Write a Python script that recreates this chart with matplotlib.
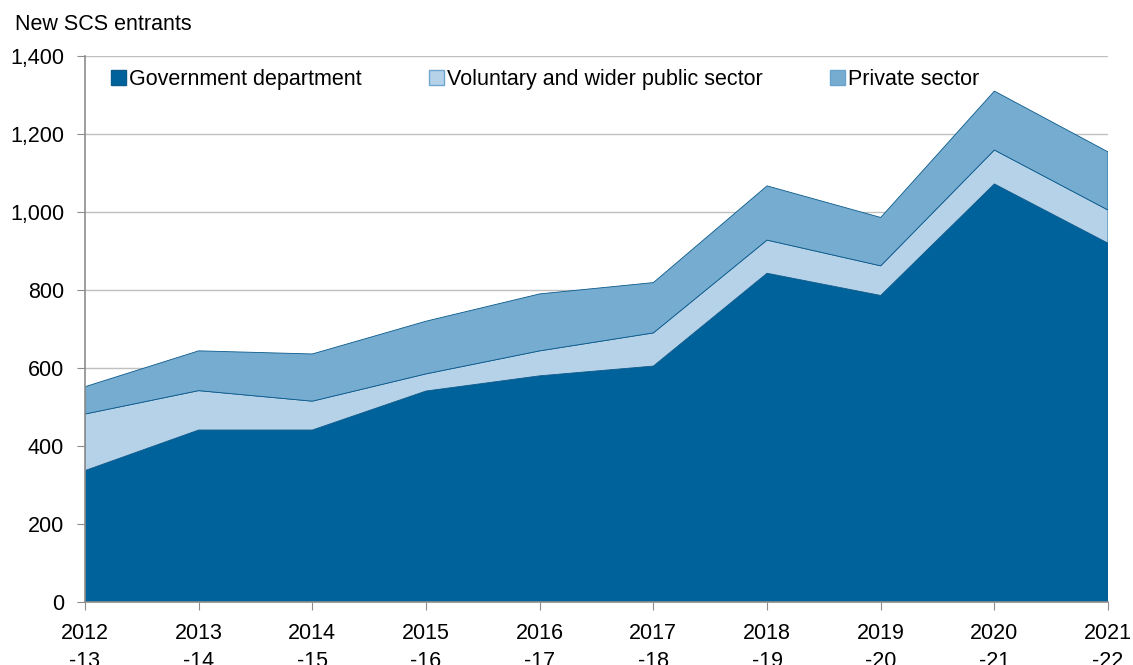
import matplotlib.pyplot as plt
from matplotlib.patches import Patch
from matplotlib.ticker import FuncFormatter

plt.rcParams['font.family'] = ['Liberation Sans', 'DejaVu Sans']

years = ["2012\n-13", "2013\n-14", "2014\n-15", "2015\n-16", "2016\n-17",
         "2017\n-18", "2018\n-19", "2019\n-20", "2020\n-21", "2021\n-22"]
government = [337, 441, 441, 541, 580, 605, 843, 786, 1072, 920]
voluntary = [145, 101, 74, 44, 64, 85, 85, 76, 87, 85]
private = [70, 102, 121, 135, 146, 129, 139, 124, 151, 149]

labels = ["Government department", "Voluntary and wider public sector", "Private sector"]
colors = ["#00629a", "#b5d2e8", "#76acd0"]
edges = ["#0a5a8c", "#6fa6d0", "#6aa4cd"]

fig = plt.figure(figsize=(11.33, 6.65), dpi=100)
ax = fig.add_axes([0.075, 0.0947, 0.903, 0.8211])

x = list(range(len(years)))
ax.stackplot(x, government, voluntary, private, colors=colors,
             edgecolor=edges, linewidth=0.6)

ax.set_xlim(0, len(years) - 1)
ax.set_ylim(0, 1400)
ax.set_yticks(range(0, 1401, 200))
ax.yaxis.set_major_formatter(FuncFormatter(lambda v, p: f"{int(v):,}"))
ax.set_xticks(x)
ax.set_xticklabels(years, linespacing=1.45)
ax.grid(axis='y', color='#c0c0c0', linewidth=1)
ax.set_axisbelow(True)

for s in ['top', 'right']:
    ax.spines[s].set_visible(False)
for s in ['left', 'bottom']:
    ax.spines[s].set_color('#8c8c8c')
    ax.spines[s].set_linewidth(1.2)
ax.tick_params(axis='both', colors='#8c8c8c', length=6, labelsize=15.5, labelcolor='black')
ax.tick_params(axis='x', pad=9)
ax.tick_params(axis='y', pad=9)

fig.text(0.013, 0.963, "New SCS entrants", fontsize=15.5, va='center', ha='left')

handles = [Patch(facecolor=c, edgecolor=e, linewidth=1) for c, e in zip(colors, edges)]
ax.legend(handles, labels, loc='upper left', ncol=3, frameon=False, fontsize=15.5,
          handlelength=0.7, handleheight=0.7, handletextpad=0.15, columnspacing=3.1,
          bbox_to_anchor=(0.013, 1.0), borderaxespad=0.2)

fig.savefig("out.png", dpi=100)
